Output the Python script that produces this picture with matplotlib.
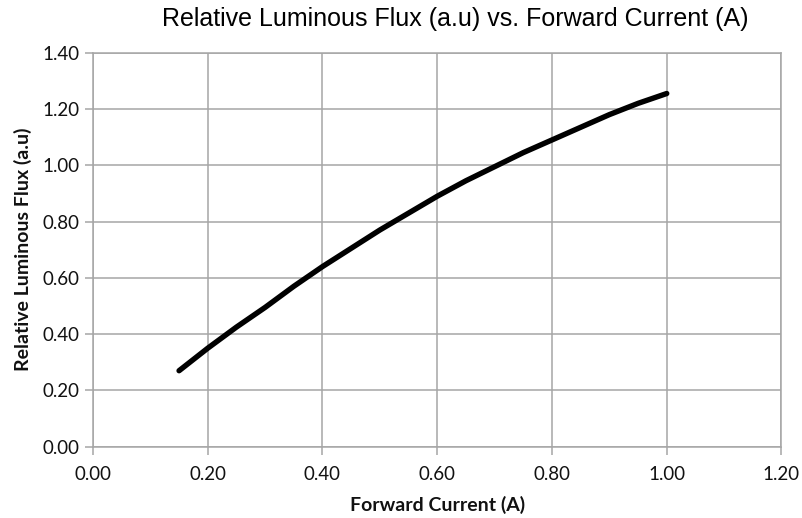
import matplotlib
matplotlib.use("Agg")
import matplotlib.pyplot as plt
import numpy as np

# forward current (A) and relative luminous flux
current = [0.15, 0.20, 0.25, 0.30, 0.35, 0.40, 0.45, 0.50, 0.55, 0.60, 0.65, 0.70, 0.75, 0.80, 0.85, 0.90, 0.95, 1.00]
flux = [0.27, 0.35, 0.425, 0.495, 0.57, 0.64, 0.705, 0.77, 0.83, 0.89, 0.945, 0.995, 1.045, 1.09, 1.135, 1.18, 1.22, 1.255]

xticks = [0.00, 0.20, 0.40, 0.60, 0.80, 1.00, 1.20]
yticks = [0.00, 0.20, 0.40, 0.60, 0.80, 1.00, 1.20, 1.40]

fig = plt.figure(figsize=(8.03, 5.18), dpi=100)
ax = fig.add_axes([93/803, 1-446.7/518, (781.5-93)/803, (446.7-52.7)/518])

ax.plot(current, flux, color="black", linewidth=3.9, solid_capstyle="round", solid_joinstyle="round")

ax.set_xlim(0, 1.2)
ax.set_ylim(0, 1.4)
ax.set_xticks(xticks)
ax.set_yticks(yticks)
ax.set_xticklabels(["%.2f" % v for v in xticks], fontfamily="Lato", fontsize=13.5)
ax.set_yticklabels(["%.2f" % v for v in yticks], fontfamily="Lato", fontsize=13.5)
ax.grid(True, color="#a6a6a6", linewidth=1.1)
ax.set_axisbelow(True)
for s in ax.spines.values():
    s.set_color("#a6a6a6")
    s.set_linewidth(1.1)
ax.tick_params(axis="x", pad=8)
ax.tick_params(direction="out", length=6, color="#a6a6a6", width=1.1, labelcolor="#111111")

ax.set_xlabel("Forward Current (A)", fontfamily="Lato", fontweight="bold", fontsize=14, labelpad=9, color="#111111")
ax.set_ylabel("Relative Luminous Flux (a.u)", fontfamily="Lato", fontweight="bold", fontsize=14, labelpad=8, color="#111111")
# title sits right of centre in the original
fig.text(455/803, 1-19/518, "Relative Luminous Flux (a.u) vs. Forward Current (A)",
         ha="center", va="center", fontfamily="Liberation Sans", fontsize=18)

fig.savefig("out.png", dpi=100)
